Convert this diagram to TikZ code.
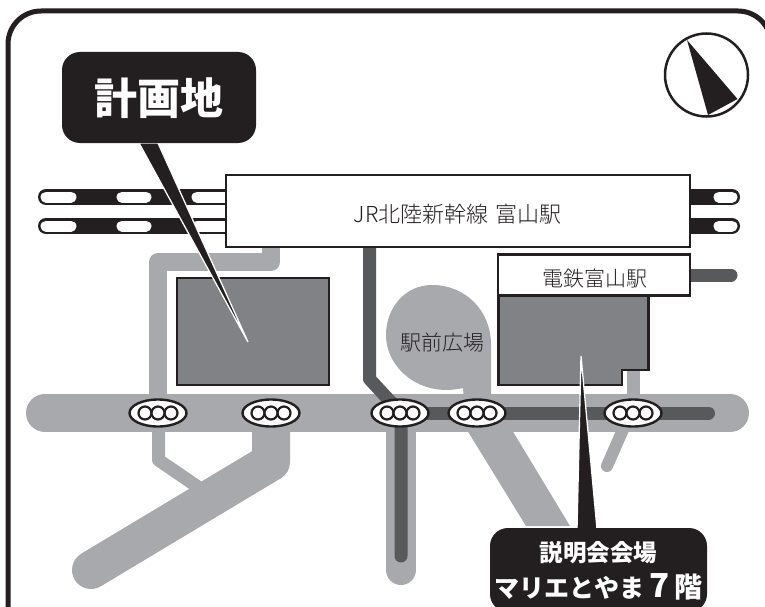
\documentclass[tikz,border=0pt]{standalone}
\usepackage{fontspec}
\usetikzlibrary{shapes.geometric}
\newfontfamily\cjk{Noto Sans CJK JP}
\newfontfamily\cjklight{Noto Sans CJK JP Light}
\newfontfamily\cjkblack{Noto Sans CJK JP Black}
\definecolor{ink}{HTML}{231F20}
\definecolor{roadlight}{HTML}{A7A9AC}
\definecolor{roaddark}{HTML}{58595B}
\definecolor{bldg}{HTML}{808285}
\tikzset{
  frameline/.style={draw=ink,line width=5pt,rounded corners=33pt},
  lightroad/.style={draw=roadlight,line cap=round,line join=round},
  darkroad/.style={draw=roaddark,line cap=round,line join=round,line width=13pt},
  building/.style={draw=ink,fill=bldg,line width=2.5pt,line join=miter},
  stationbox/.style={draw=ink,fill=white,line width=2.5pt},
  railblack/.style={draw=ink,line width=16pt,line cap=round},
  railwhite/.style={draw=white,line width=11pt,line cap=round},
  sign/.style={fill=ink,rounded corners=18pt},
  pointer/.style={fill=ink,draw=white,line width=1.3pt,line join=miter},
  lamp/.style={draw=ink,fill=white,line width=2.4pt,ellipse,minimum width=57pt,minimum height=27pt,inner sep=0pt},
  bulb/.style={draw=ink,fill=white,line width=2.2pt,circle,minimum size=13pt,inner sep=0pt},
  thintext/.style={text=ink,font=\cjklight\fontsize{21pt}{24pt}\selectfont,inner sep=0pt},
  boldtext/.style={text=white,inner sep=0pt}
}
\begin{document}
\begin{tikzpicture}[x=1pt,y=-1pt]
\clip (0,0) rectangle (765,607);
\fill[white] (0,0) rectangle (765,607);
\draw[frameline] (8,650) -- (8,11) -- (771,11) -- (771,650);
% light roads
\draw[lightroad,line width=38pt] (45,413) -- (730,413);
\draw[lightroad,line width=18pt,line cap=butt] (271,247) -- (271,262) -- (158,262) -- (158,400);
\draw[lightroad,line width=38pt] (271,425) -- (271,462) -- (91,570);
\draw[lightroad,line width=13pt,line cap=butt] (158.5,425) -- (158.5,460) -- (198,487);
\fill[roadlight] (467,430) -- (512,430) -- (570,526) -- (526,526) -- cycle;
\draw[lightroad,line width=30pt] (401,420) -- (401,570);
\draw[lightroad,line width=12pt] (625,425) -- (607,466);
\draw[lightroad,line width=13pt,line cap=butt] (633.5,365) -- (633.5,400);
\fill[roadlight] (491,400) -- (491,345) .. controls (491,310) and (465,285) .. (432,285) .. controls (405,285) and (386,308) .. (386,335) .. controls (386,368) and (420,398) .. (463,388) -- (464,400) -- cycle;
% dark roads
\draw[darkroad] (369.5,240) -- (369.5,379) -- (401,413) -- (401,556);
\draw[darkroad] (401,413) -- (708.5,413);
\draw[darkroad] (690,275) -- (731,275);
% buildings
\node[building,minimum width=152pt,minimum height=107pt,inner sep=0pt] (site) at (253,331.5) {};
\draw[building] (498.5,296) -- (648.5,296) -- (648.5,370) -- (622,370) -- (622,385) -- (498.5,385) -- cycle;
% rails
\foreach \y/\n in {197/a,226/b}{
  \coordinate (rail\n l) at (46,\y);
  \coordinate (rail\n r) at (732,\y);
  \draw[railblack] (rail\n l) -- (rail\n r);
  \draw[railwhite] (46,\y) -- (71,\y);
  \draw[railwhite] (122,\y) -- (146,\y);
  \draw[railwhite] (197,\y) -- (226,\y);
  \draw[railwhite] (719,\y) -- (732,\y);
}
% stations
\node[stationbox,minimum width=464pt,minimum height=72pt,inner sep=0pt] (jr) at (458,211) {};
\node[thintext,font=\cjklight\fontsize{22pt}{24pt}\selectfont] (jrtext) at (457.5,214) {JR北陸新幹線\hspace{2pt} 富山駅};
\node[stationbox,minimum width=192pt,minimum height=41pt,inner sep=0pt] (den) at (594,275) {};
\node[thintext] (dentext) at (594.5,279) {電鉄富山駅};
\node[thintext] (plaza) at (442.5,343) {駅前広場};
% signals
\foreach \x/\n in {158/a,271/b,400/c,477/d,633/e}{
  \node[lamp] (lamp\n) at (\x,413) {};
  \node[bulb] at (\x-13,413) {};
  \node[bulb] at (\x+13,413) {};
  \node[bulb] at (\x,413) {};
}
% pointers
\coordinate (tipa) at (248,342);
\coordinate (tipb) at (581,356);
\filldraw[pointer] (139,143) -- (158,143) -- (tipa) -- cycle;
\fill[sign] (62,52) rectangle (256,143);
\filldraw[pointer] (577,529) -- (597,529) -- (tipb) -- cycle;
\fill[sign] (490,528) rectangle (707,612);
\node[boldtext,font=\cjkblack\fontsize{43pt}{47pt}\selectfont] (sitelabel) at (159,98) {計画地};
\node[boldtext,font=\cjk\bfseries\fontsize{23.5pt}{26pt}\selectfont] (venue) at (598.5,553) {説明会会場};
\node[boldtext,font=\cjk\bfseries\fontsize{25pt}{28pt}\selectfont] (venue2) at (598.5,587) {マリエとやま\hspace{5pt}{\fontsize{33pt}{33pt}\selectfont 7}\hspace{5pt}{\fontsize{28pt}{28pt}\selectfont 階}};
% compass
\node[draw=ink,line width=2.5pt,circle,minimum size=83pt,inner sep=0pt] (compass) at (706.5,75) {};
\fill[ink] (687,40) -- (737.5,99) -- (708,115) -- cycle;
\end{tikzpicture}
\end{document}
